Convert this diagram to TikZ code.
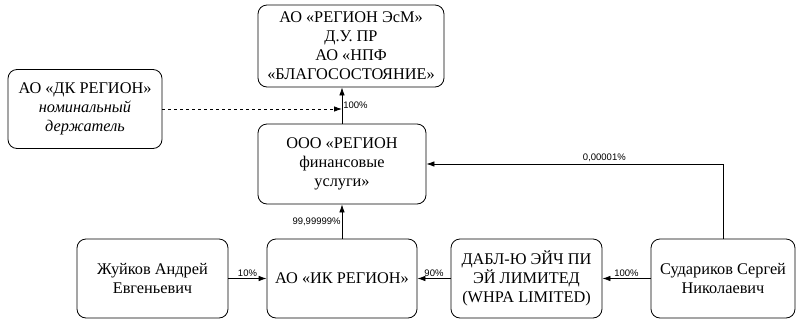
\documentclass[tikz,border=0pt]{standalone}
\usepackage{fontspec}
\setmainfont{Liberation Serif}
\newfontfamily\pctfont{Liberation Sans}
\usetikzlibrary{arrows.meta}

\begin{document}
\begin{tikzpicture}[x=1pt,y=-1pt,
        entity/.style={draw,rounded corners=9pt,line width=0.8pt,align=center,inner sep=2pt,
            minimum height=79pt,font=\fontsize{16.3}{19}\selectfont},
        share/.style={-{Latex[length=8pt,width=5.5pt]},line width=0.8pt},
        pct/.style={font=\pctfont\fontsize{9.5}{10}\selectfont,inner sep=2pt}]
    \useasboundingbox (0,0) rectangle (796,322);
    % owners, top row
    \node[entity,minimum width=186pt,minimum height=82pt] (esm) at (351,46)
        {АО «РЕГИОН ЭсМ»\\Д.У. ПР\\АО «НПФ\\«БЛАГОСОСТОЯНИЕ»};
    \node[entity,minimum width=154pt] (dk) at (85,109)
        {АО «ДК РЕГИОН»\\\textit{номинальный}\\\textit{держатель}};
    \node[entity,minimum width=168pt,minimum height=80pt] (ooo) at (342,164)
        {ООО «РЕГИОН\\финансовые\\услуги»};
    % bottom row
    \node[entity,minimum width=151pt] (zhuykov) at (152.5,278.5) {Жуйков Андрей\\Евгеньевич};
    \node[entity,minimum width=150pt] (ik) at (342,278.5) {АО «ИК РЕГИОН»};
    \node[entity,minimum width=151pt] (whpa) at (526.5,278.5) {ДАБЛ-Ю ЭЙЧ ПИ\\ЭЙ ЛИМИТЕД\\(WHPA LIMITED)};
    \node[entity,minimum width=144pt] (sudarikov) at (723,278.5) {Судариков Сергей\\Николаевич};

    % shares
    \draw[share] (zhuykov) -- node[pct,above] {10\%} (ik);
    \draw[share] (whpa) -- node[pct,above] {90\%} (ik);
    \draw[share] (sudarikov) -- node[pct,above] {100\%} (whpa);
    \draw[share] (ik) -- node[pct,left,inner sep=1pt] {99,99999\%} (ooo);
    \draw[share] (ooo.north) -- node[pct,right,inner sep=1pt] {100\%} (ooo.north |- esm.south);
    \draw[share] (sudarikov.north) |- node[pct,above,pos=0.7] {0,00001\%} (ooo.east);
    \draw[share,dashed] (dk.east) -- (dk.east -| ooo.north);
\end{tikzpicture}
\end{document}
